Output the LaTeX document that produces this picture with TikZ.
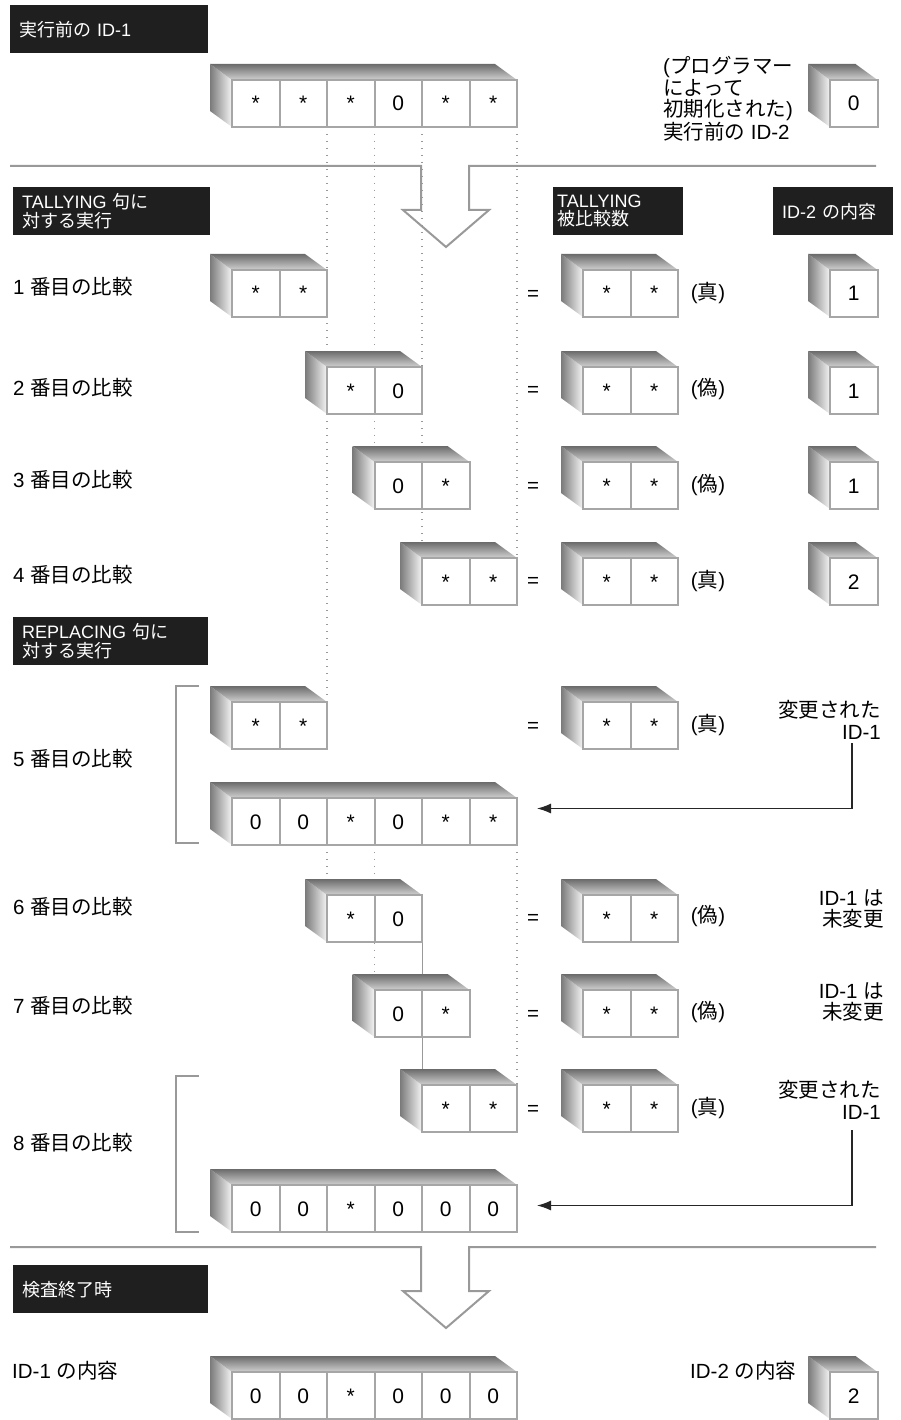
\documentclass[tikz,border=0pt]{standalone}
\usepackage{fontspec}
\setmainfont{Liberation Sans}
\newfontfamily\jp{Noto Sans CJK JP}
\usetikzlibrary{backgrounds,arrows.meta}

\tikzset{
  cell/.style={draw=black!35, line width=2pt, fill=white, minimum width=47.5pt,
    minimum height=47pt, inner sep=0pt, outer sep=0pt, text height=15pt,
    text depth=0pt, font=\fontsize{21}{21}\selectfont},
  hdr/.style={fill=black!88, text=white, anchor=north west, inner xsep=9pt,
    minimum height=48pt, text width=#1, align=left,
    font=\fontsize{18}{18.5}\selectfont},
  lbl/.style={inner sep=0pt, font=\fontsize{20.5}{21.5}\selectfont},
  sep/.style={draw=black!40, line width=2pt},
  guide/.style={black!40, line width=1.4pt, dash pattern=on 1.4pt off 5.6pt},
  chg/.style={draw=black!85, line width=1.2pt, -{Latex[length=14pt,width=10pt]}},
}

% box of cells: name, left x and top y of the front, cell count, contents
\newcommand\membox[5]{%
  \shade[left color=black!52, right color=black!4]
    (#2,#3) -- ++(-22,-16) -- ++(0,47) -- ++(22,16) -- cycle;
  \shade[top color=black!58, bottom color=black!18]
    (#2,#3) -- ++(-22,-16) -- ++({#4*47.5},0) -- ++(22,16) -- cycle;
  \foreach \val [count=\i] in {#5}
    \node[cell] (#1-\i) at ({#2+(\i-0.5)*47.5}, {#3+23.5}) {\val};
}

\begin{document}
\begin{tikzpicture}[x=1pt, y=-1pt]
\useasboundingbox (0,0) rectangle (901,1420);

% before the run
\node[hdr=180pt] (h0) at (10,5) {{\jp 実行前の} ID-1};
\membox{id1}{232}{80}{6}{*,*,*,0,*,*}
\node[lbl, anchor=west, align=left] (p2) at (663,99)
  {({\jp プログラマー}\\{\jp によって}\\{\jp 初期化された})\\{\jp 実行前の} ID-2};
\membox{id2}{830}{80}{1}{0}

\draw[sep] (10,166) -- (421,166) -- (421,210) -- (403,210) -- (446,247)
  -- (489,210) -- (469,210) -- (469,166) -- (876,166);

% TALLYING
\node[hdr=179pt] (h1) at (13,187) {TALLYING {\jp 句に}\\{\jp 対する実行}};
\node[hdr=122pt, inner xsep=4pt] (h2) at (553,187) {TALLYING\\{\jp 被比較数}};
\node[hdr=102pt] (h3) at (773,187) {ID-2 {\jp の内容}};

\node[lbl, anchor=west] (l1) at (13,287) {1 {\jp 番目の比較}};
\membox{c1}{232}{270}{2}{*,*}
\node[lbl] (e1) at (533,295) {=};
\membox{t1}{583}{270}{2}{*,*}
\node[lbl] (q1) at (708,293) {({\jp 真})};
\membox{n1}{830}{270}{1}{1}

\node[lbl, anchor=west] (l2) at (13,388) {2 {\jp 番目の比較}};
\membox{c2}{327}{367}{2}{*,0}
\node[lbl] (e2) at (533,391) {=};
\membox{t2}{583}{367}{2}{*,*}
\node[lbl] (q2) at (708,389) {({\jp 偽})};
\membox{n2}{830}{367}{1}{1}

\node[lbl, anchor=west] (l3) at (13,480) {3 {\jp 番目の比較}};
\membox{c3}{374.5}{462}{2}{0,*}
\node[lbl] (e3) at (533,487) {=};
\membox{t3}{583}{462}{2}{*,*}
\node[lbl] (q3) at (708,485) {({\jp 偽})};
\membox{n3}{830}{462}{1}{1}

\node[lbl, anchor=west] (l4) at (13,575) {4 {\jp 番目の比較}};
\membox{c4}{422}{558}{2}{*,*}
\node[lbl] (e4) at (533,582) {=};
\membox{t4}{583}{558}{2}{*,*}
\node[lbl] (q4) at (708,581) {({\jp 真})};
\membox{n4}{830}{558}{1}{2}

% REPLACING
\node[hdr=177pt] (h4) at (13,617) {REPLACING {\jp 句に}\\{\jp 対する実行}};

\node[lbl, anchor=west] (l5) at (13,759) {5 {\jp 番目の比較}};
\draw[sep] (199,686) -| (176,843) -- (199,843);
\membox{c5}{232}{702}{2}{*,*}
\node[lbl] (e5) at (533,727) {=};
\membox{t5}{583}{702}{2}{*,*}
\node[lbl] (q5) at (708,725) {({\jp 真})};
\node[lbl, anchor=east, align=right] (v5) at (881,720) {{\jp 変更された}\\ID-1};
\membox{r5}{232}{798}{6}{0,0,*,0,*,*}
\coordinate (m5) at (852,743);
\draw[chg] (m5) |- ([xshift=20pt,yshift=13pt]r5-6.east);

\node[lbl, anchor=west] (l6) at (13,907) {6 {\jp 番目の比較}};
\membox{c6}{327}{895}{2}{*,0}
\node[lbl] (e6) at (533,919) {=};
\membox{t6}{583}{895}{2}{*,*}
\node[lbl] (q6) at (708,916) {({\jp 偽})};
\node[lbl, anchor=east, align=right] (v6) at (884,909) {ID-1 {\jp は}\\{\jp 未変更}};

\node[lbl, anchor=west] (l7) at (13,1006) {7 {\jp 番目の比較}};
\membox{c7}{374.5}{990}{2}{0,*}
\node[lbl] (e7) at (533,1015) {=};
\membox{t7}{583}{990}{2}{*,*}
\node[lbl] (q7) at (708,1012) {({\jp 偽})};
\node[lbl, anchor=east, align=right] (v7) at (884,1002) {ID-1 {\jp は}\\{\jp 未変更}};

\node[lbl, anchor=west] (l8) at (13,1143) {8 {\jp 番目の比較}};
\draw[sep] (199,1076) -| (176,1232) -- (199,1232);
\membox{c8}{422}{1085}{2}{*,*}
\node[lbl] (e8) at (533,1110) {=};
\membox{t8}{583}{1085}{2}{*,*}
\node[lbl] (q8) at (708,1108) {({\jp 真})};
\node[lbl, anchor=east, align=right] (v8) at (881,1100) {{\jp 変更された}\\ID-1};
\membox{r8}{232}{1185}{6}{0,0,*,0,0,0}
\coordinate (m8) at (852,1130);
\draw[chg] (m8) |- ([xshift=20pt,yshift=3pt]r8-6.east);

% guide lines behind the boxes
\begin{scope}[on background layer]
  \draw[guide] (id1-2.south east) -- (c5-2.north east);
  \draw[guide] (id1-3.south east) -- (c3-1.north west);
  \draw[guide] (id1-4.south east) -- (c4-1.north west);
  \draw[guide] (id1-6.south east) -- (c4-2.north east);
  \draw[guide] (r5-2.south east) -- (c6-1.north west);
  \draw[guide] (r5-3.south east) -- (c7-1.north west);
  \draw[guide] (r5-6.south east) -- (c8-2.north east);
  \draw[black!40, line width=1pt] (c6-2.south east) -- (c8-1.north west);
\end{scope}

% end of the inspection
\draw[sep] (10,1247) -- (421,1247) -- (421,1291) -- (403,1291) -- (446,1328)
  -- (489,1291) -- (469,1291) -- (469,1247) -- (876,1247);
\node[hdr=177pt] (h5) at (13,1265) {{\jp 検査終了時}};

\node[lbl, anchor=west] (f1) at (12,1371) {ID-1 {\jp の内容}};
\membox{fin1}{232}{1372}{6}{0,0,*,0,0,0}
\node[lbl, anchor=west] (f2) at (690,1371) {ID-2 {\jp の内容}};
\membox{fin2}{830}{1372}{1}{2}
\end{tikzpicture}
\end{document}
